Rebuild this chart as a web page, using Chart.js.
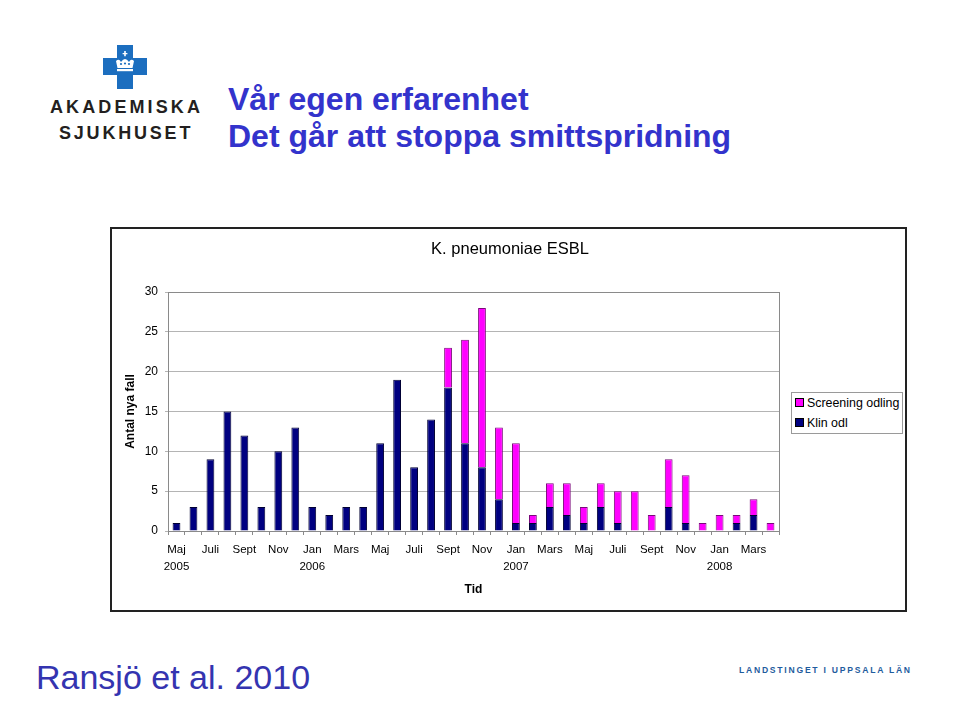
<!DOCTYPE html>
<html>
<head>
<meta charset="utf-8">
<script src="https://cdn.jsdelivr.net/npm/chart.js@4.4.1/dist/chart.umd.min.js"></script>
<style>
  html, body { margin: 0; padding: 0; background: #fff; }
  body { width: 960px; height: 720px; position: relative; overflow: hidden; font-family: Arial, "Liberation Sans", sans-serif; }
  .abs { position: absolute; white-space: nowrap; }
  #title1, #title2 { left: 228px; font-size: 32px; font-weight: bold; color: #3333cc; line-height: 37px; }
  #title1 { top: 81px; }
  #title2 { top: 118px; }
  #ak1, #ak2 { font-weight: bold; font-size: 18px; color: #231f20; line-height: 20px; }
  #ak1 { left: 50px; top: 97px; letter-spacing: 3.1px; }
  #ak2 { left: 59px; top: 123px; letter-spacing: 2.8px; }
  #ref { left: 36px; top: 657px; font-size: 34px; color: #3434b0; line-height: 40px; }
  #lands { left: 739px; top: 664px; font-size: 8.6px; font-weight: bold; color: #1f5c9e; letter-spacing: 1.75px; line-height: 12px; }
  #box { left: 110px; top: 227px; width: 793px; height: 381px; border: 2px solid #222; }
  #chartWrap { position: absolute; left: 0; top: 0; width: 793px; height: 381px; }
  #ctitle { left: 310px; width: 400px; text-align: center; top: 238px; font-size: 16.5px; line-height: 20px; color: #000; }
  #legend { left: 791px; top: 392px; width: 110px; height: 40px; border: 1px solid #9a9a9a; background: #fff; font-size: 12.4px; color: #000; }
  .li { position: absolute; left: 3px; height: 16px; line-height: 16px; }
  .sw { display: inline-block; width: 7px; height: 7px; border: 1px solid #000; vertical-align: middle; margin-right: 3px; position: relative; top: -1px; }
</style>
</head>
<body>
<svg class="abs" style="left:103px; top:45px;" width="44" height="44" viewBox="0 0 44 44">
  <path d="M14 0 H30 V13 H44 V30 H30 V44 H14 V30 H0 V13 H14 Z" fill="#1c6ebf"/>
  <path d="M21.2 6 h1.6 v2 h1.6 v1.2 h-1.6 v2 h-1.6 v-2 h-1.6 v-1.2 h1.6 Z" fill="#fff"/>
  <path d="M13 16 Q16 13 18 17 Q22 11 26 17 Q28 13 31 16 L29.5 23 H14.5 Z" fill="#fff"/>
  <circle cx="18" cy="19" r="1.1" fill="#1c6ebf"/><circle cx="22" cy="18.5" r="1.1" fill="#1c6ebf"/><circle cx="26" cy="19" r="1.1" fill="#1c6ebf"/>
  <rect x="14" y="24" width="16" height="2.2" fill="#fff"/>
</svg>
<div id="ak1" class="abs">AKADEMISKA</div>
<div id="ak2" class="abs">SJUKHUSET</div>
<div id="title1" class="abs">Vår egen erfarenhet</div>
<div id="title2" class="abs">Det går att stoppa smittspridning</div>

<div id="box" class="abs"><div id="chartWrap"><canvas id="c" width="793" height="381"></canvas></div></div>
<div id="ctitle" class="abs"></div>
<div id="legend" class="abs"></div>

<div id="ref" class="abs">Ransjö et al. 2010</div>
<div id="lands" class="abs">LANDSTINGET I UPPSALA LÄN</div>

<script>
// ---- data ----
const months = [
  ["Maj","2005"], "", "Juli", "", "Sept", "", "Nov", "",
  ["Jan","2006"], "", "Mars", "", "Maj", "", "Juli", "", "Sept", "", "Nov", "",
  ["Jan","2007"], "", "Mars", "", "Maj", "", "Juli", "", "Sept", "", "Nov", "",
  ["Jan","2008"], "", "Mars", ""
];
const klinOdl = [1,3,9,15,12,3,10,13,3,2,3,3,11,19,8,14,18,11,8,4,1,1,3,2,1,3,1,0,0,3,1,0,0,1,2,0];
const screeningOdling = [0,0,0,0,0,0,0,0,0,0,0,0,0,0,0,0,5,13,20,9,10,1,3,4,2,3,4,5,2,6,6,1,2,1,2,1];
const yTicks = [0,5,10,15,20,25,30];
const seriesNames = ["Klin odl", "Screening odling"];
const seriesColors = ["#000080", "#ff00ff"];
const seriesBorders = ["#000033", "#7a0a7a"];
const chartTitle = "K. pneumoniae ESBL";
const xTitle = "Tid";
const yTitle = "Antal nya fall";

document.getElementById('ctitle').textContent = chartTitle;

const frame = {
  id: 'frame',
  afterDatasetsDraw(chart) {
    const a = chart.chartArea, ctx = chart.ctx;
    ctx.save();
    ctx.strokeStyle = '#8a8a8a';
    ctx.lineWidth = 1;
    ctx.strokeRect(Math.round(a.left) + 0.5, Math.round(a.top) + 0.5, Math.round(a.right - a.left), Math.round(a.bottom - a.top));
    ctx.restore();
  }
};

const chart = new Chart(document.getElementById('c'), {
  type: 'bar',
  data: {
    labels: months,
    datasets: [
      { label: seriesNames[0], data: klinOdl, backgroundColor: seriesColors[0], borderColor: seriesBorders[0], borderWidth: 1, borderSkipped: 'start' },
      { label: seriesNames[1], data: screeningOdling, backgroundColor: seriesColors[1], borderColor: seriesBorders[1], borderWidth: 1, borderSkipped: 'start' }
    ]
  },
  options: {
    responsive: false,
    animation: false,
    events: [],
    datasets: { bar: { categoryPercentage: 1, barPercentage: 0.46 } },
    layout: { padding: { left: 0, right: 126, top: 63, bottom: 0 } },
    plugins: {
      legend: { display: false },
      tooltip: { enabled: false },
      title: { display: false }
    },
    scales: {
      x: {
        stacked: true,
        grid: { display: true, drawOnChartArea: false, drawTicks: true, tickLength: 4, offset: true, color: '#8a8a8a' },
        border: { display: true, color: '#8a8a8a' },
        ticks: {
          autoSkip: false, maxRotation: 0, minRotation: 0, padding: 6, color: '#000',
          font: { family: 'Arial, "Liberation Sans", sans-serif', size: 11.5, lineHeight: 1.5 }
        },
        title: {
          display: true, text: xTitle, color: '#000',
          font: { family: 'Arial, "Liberation Sans", sans-serif', size: 12, weight: 'bold', lineHeight: 1.2 },
          padding: { top: 0, bottom: 13 }
        },
        afterFit(s) { s.height = 79; }
      },
      y: {
        stacked: true, min: 0, max: 30,
        afterBuildTicks(s) { s.ticks = yTicks.map(v => ({ value: v })); },
        grid: { color: '#b4b4b4', lineWidth: 1, drawTicks: true, tickLength: 3 },
        border: { display: true, color: '#8a8a8a' },
        ticks: {
          padding: 7, color: '#000',
          font: { family: 'Arial, "Liberation Sans", sans-serif', size: 12 }
        },
        title: {
          display: true, text: yTitle, color: '#000',
          font: { family: 'Arial, "Liberation Sans", sans-serif', size: 12, weight: 'bold', lineHeight: 1.2 },
          padding: { top: 11, bottom: 0 }
        },
        afterFit(s) { s.width = 56; }
      }
    }
  },
  plugins: [frame]
});

// HTML legend built from the datasets (reverse order, as in the reference)
const leg = document.getElementById('legend');
[1, 0].forEach((i, k) => {
  const d = document.createElement('div');
  d.className = 'li';
  d.style.top = (2 + k * 20) + 'px';
  d.innerHTML = '<span class="sw" style="background:' + seriesColors[i] + '"></span>' + seriesNames[i];
  leg.appendChild(d);
});
</script>
</body>
</html>
